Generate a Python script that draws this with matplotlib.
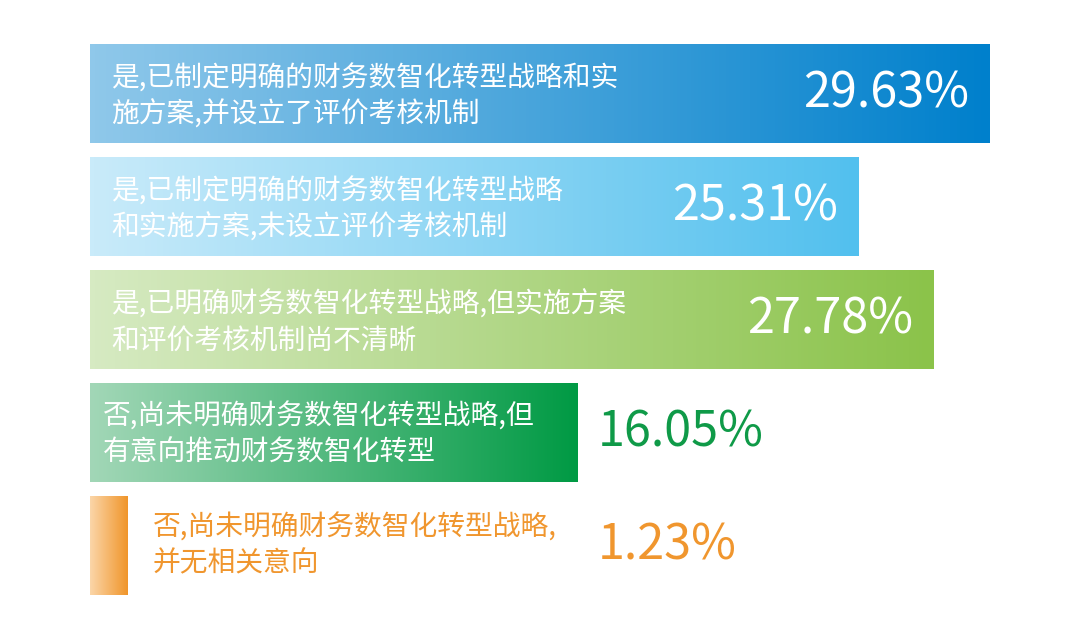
import numpy as np
import matplotlib
matplotlib.use("Agg")
import matplotlib.pyplot as plt
from matplotlib.colors import LinearSegmentedColormap

plt.rcParams['font.family'] = ['Noto Sans CJK SC', 'DejaVu Sans']

labels = [
    "是,已制定明确的财务数智化转型战略和实\n施方案,并设立了评价考核机制",
    "是,已制定明确的财务数智化转型战略\n和实施方案,未设立评价考核机制",
    "是,已明确财务数智化转型战略,但实施方案\n和评价考核机制尚不清晰",
    "否,尚未明确财务数智化转型战略,但\n有意向推动财务数智化转型",
    "否,尚未明确财务数智化转型战略,\n并无相关意向",
]
values = [29.63, 25.31, 27.78, 16.05, 1.23]
value_texts = ["29.63%", "25.31%", "27.78%", "16.05%", "1.23%"]
grad_left = ["#8fc8ea", "#c9ebfa", "#d6eac2", "#a2d7b7", "#fbd6a9"]
grad_right = ["#0080cc", "#52c0ee", "#8bc34a", "#009a44", "#f0952a"]
label_colors = ["white", "white", "white", "white", "#f0962e"]
value_colors = ["white", "white", "white", "#0f9a48", "#f0962e"]
value_inside = [True, True, True, False, False]

W, H, DPI = 1080, 639, 100
fig = plt.figure(figsize=(W / DPI, H / DPI), dpi=DPI)
ax = fig.add_axes([0, 0, 1, 1])

px_per = 900 / 29.63          # pixels per percentage point
x0 = 90                       # bar start in pixels
pitch = 113                   # pixels between bar centres
c0 = 93.5                     # first bar centre in pixels
ax.set_xlim(-x0 / px_per, (W - x0) / px_per)
ax.set_ylim((H - c0) / pitch, -c0 / pitch)
ax.axis('off')

bar_h = 99 / pitch
ys = np.arange(len(values))
bars = ax.barh(ys, values, height=bar_h, color='none', edgecolor='none')

grad = np.linspace(0, 1, 256).reshape(1, -1)
for i, b in enumerate(bars):
    cmap = LinearSegmentedColormap.from_list(f"g{i}", [grad_left[i], grad_right[i]])
    x, y = b.get_x(), b.get_y()
    w, h = b.get_width(), b.get_height()
    im = ax.imshow(grad, cmap=cmap, aspect='auto', extent=(x, x + w, y + h, y),
                   interpolation='bicubic', zorder=1)
    im.set_clip_path(b)
ax.set_xlim(-x0 / px_per, (W - x0) / px_per)
ax.set_ylim((H - c0) / pitch, -c0 / pitch)

label_offsets = [21, 21, 21, 13, 63]
label_dy = [-3, -3, -3, -2, 0]
for i, (lab, v) in enumerate(zip(labels, values)):
    ax.annotate(lab, xy=(0, ys[i]), xytext=(label_offsets[i], label_dy[i]),
                textcoords='offset pixels', ha='left', va='center',
                fontsize=20, color=label_colors[i], linespacing=1.28, zorder=3)
    if value_inside[i]:
        ax.annotate(value_texts[i], xy=(v, ys[i]), xytext=(-21, 0),
                    textcoords='offset pixels', ha='right', va='center',
                    fontsize=35, color=value_colors[i], zorder=3)
    else:
        ax.annotate(value_texts[i], xy=(0, ys[i]), xytext=(508, 0),
                    textcoords='offset pixels', ha='left', va='center',
                    fontsize=35, color=value_colors[i], zorder=3)

fig.savefig("out.png", dpi=DPI)
